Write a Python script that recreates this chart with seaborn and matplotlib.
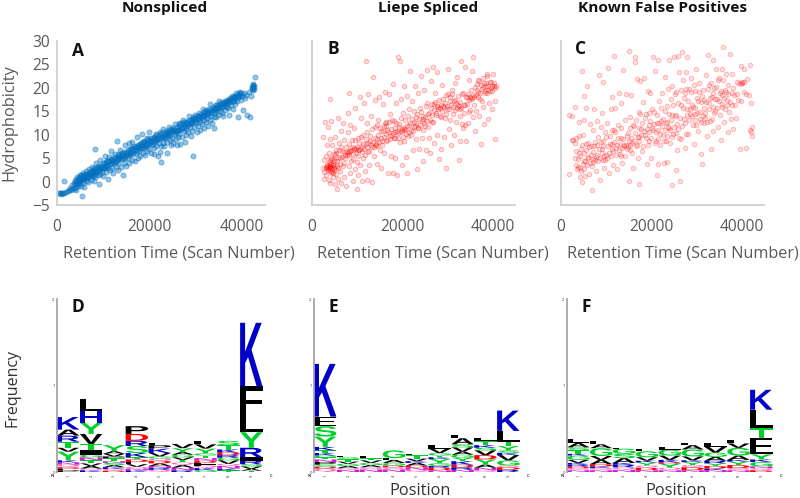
import matplotlib
matplotlib.use("Agg")
import matplotlib.pyplot as plt
import pandas as pd
import seaborn as sns
from matplotlib.font_manager import FontProperties
from matplotlib.patches import PathPatch
from matplotlib.textpath import TextPath
from matplotlib.transforms import Affine2D

TITLES = ["Nonspliced", "Liepe Spliced", "Known False Positives"]
X_TICKS = [0, 20000, 40000]
Y_TICKS = [-5, 0, 5, 10, 15, 20, 25, 30]
XLABEL = "Retention Time (Scan Number)"
YLABEL = "Hydrophobicity"

# (scan number in thousands, hydrophobicity)
A_POINTS = [(0.5,-2.5),(0.7,-2.4),(0.9,-2.6),(1.1,-2.4),(1.3,-2.5),(1.6,-2.4),(1.6,0.1),(1.9,-2.2),(2.3,-2.1),(2.6,-1.7),(2.9,-1.3),
(3.1,-1.8),(3.3,-0.8),(3.4,-1.3),(3.6,-0.2),(3.7,-1.6),(3.8,0.4),(4,-0.6),(4.1,-1.7),(4.2,-1.1),(4.3,0.2),(4.4,0.9),(4.5,-0.4),(4.6,-1),
(4.8,0.6),(4.9,1.5),(5,-0.2),(5.1,-0.9),(5.2,0.3),(5.4,-3.1),(5.4,1),(5.6,1.8),(5.6,-0.3),(5.8,0.5),(5.9,-1.2),(6,1.2),(6.2,2.3),(6.2,0.1),(6.4,0.8),
(6.6,1.6),(6.7,-0.1),(6.9,2.6),(7,0.9),(7.2,1.4),(7.3,0.3),(7.5,2.1),(7.6,3.2),(7.7,1.1),(7.9,0.1),(8,1.8),(8.1,2.8),(8.2,6.9),(8.3,0.9),(8.4,4),(8.6,2.2),(8.8,1.4),
(8.9,3.3),(9,-0.5),(9.1,2.6),(9.3,4.6),(9.4,1.7),(9.6,3),(9.7,2.1),(9.9,3.9),(10,1.1),(10.2,2.8),(10.3,5.5),(10.5,3.4),(10.6,2),(10.8,4.3),(11,0.5),(11,3),
(11.2,5.3),(11.4,2.4),(11.6,3.9),(11.7,6.5),(11.9,3),(12,4.7),(12.2,1.8),(12.4,4),(12.5,5.8),(12.7,3.1),(12.9,4.8),(13,8.6),(13.1,2.5),(13.3,3.9),(13.5,5.3),(13.6,6.8),(13.8,3.2),
(14,4.9),(14.2,1.5),(14.3,5.9),(14.5,4),(14.7,7.9),(14.8,5),(15,3.4),(15.1,6.3),(15.3,5),(15.5,8.2),(15.6,3.9),(15.8,5.7),(16,6.9),(16.2,4.5),(16.3,8.4),(16.5,5.9),(16.7,7.1),(16.9,4.3),
(17,6.2),(17.2,9.6),(17.3,7.6),(17.5,5.1),(17.7,6.6),(17.9,8),(18,5.5),(18.2,7.1),(18.4,10.2),(18.5,6.2),(18.7,8.4),(18.9,7.2),(19,5.7),(19.2,7.6),(19.4,9.2),(19.5,6.6),(19.7,8.1),(19.9,10.6),
(20,7),(20.2,8.7),(20.4,6.2),(20.5,8),(20.7,9.4),(20.9,7.2),(21,5.9),(21.2,8.6),(21.4,10.1),(21.5,7.6),(21.7,9.1),(21.9,5.4),(22,8.3),(22.2,10.5),(22.3,6.4),(22.5,7.5),(22.5,4.2),(22.7,9.6),(22.9,8.2),
(23,11.2),(23.2,7.6),(23.4,9.3),(23.5,10.4),(23.7,8.4),(23.9,6.1),(24,9.8),(24.2,11.7),(24.4,8.8),(24.5,10.5),(24.7,7.8),(24.9,9.4),(25,11.1),(25.2,8.3),(25.4,10.1),(25.5,12.3),(25.7,9),(25.9,7.7),
(26,10.8),(26.2,9.5),(26.4,12.4),(26.5,10.2),(26.7,8.1),(26.9,11.3),(27,9.6),(27.2,13.2),(27.4,10.7),(27.5,12),(27.7,8.5),(27.9,11.2),(28,9.9),(28.2,12.8),(28.4,10.6),(28.5,13.9),(28.7,11.7),
(28.9,9.7),(29,12.4),(29.2,10.8),(29.4,13.3),(29.5,5.4),(29.7,11.6),(29.9,14.2),(30,12.6),(30.2,10.5),(30.4,13.5),(30.5,11.9),(30.7,14.6),(30.9,12.8),(31,11),(31.2,13.9),(31.4,12.2),(31.5,15.4),
(31.7,13.1),(31.9,11.4),(32,14.4),(32.2,12.7),(32.4,15.2),(32.5,13.6),(32.7,11.8),(32.9,14.8),(33,13.1),(33.2,16.6),(33.4,14.1),(33.5,12.4),(33.7,15.4),(33.9,13.7),(34,11.5),(34.2,14.9),(34.4,16.3),
(34.5,13.8),(34.7,15.6),(34.9,14.3),(35,17.3),(35.2,15.1),(35.4,16.5),(35.6,14.6),(35.8,15.9),(36,13.9),(36.2,16.8),(36.4,15.2),(36.6,16.4),(36.8,17.4),(37,15.7),(37.2,14.2),(37.4,17.8),(37.6,16.3),
(37.8,18.3),(38,15.4),(38.2,17.1),(38.4,18),(38.6,16.6),(38.8,18.8),(39,17.3),(39.2,13.7),(39.4,18.4),(39.6,19.2),(39.8,17.5),(40,18.3),(40.2,15.2),(40.4,19),(40.6,17.9),(40.8,18.4),
(41.2,14.3),(41.5,19.2),(41.8,13.7),(42,18.2),(42.1,19.8),(42.2,20.1),(42.3,20.6),(42.3,19.5),(42.4,20.3),(42.5,20),(42.5,20.9),(42.6,19.8),(42.7,20.4),(42.8,22.3)]

# the dense middle of the band in panel A
A_CORE_POINTS = [(4.1,0.2),(4.3,-0.5),(4.5,0.7),(4.7,0.1),(4.9,0.9),(5.1,0.4),(5.3,1.3),(5.5,0.6),(5.7,1.2),(5.9,0.7),(6.1,1.6),(6.3,1),(6.5,1.7),(6.7,1.1),(6.9,1.9),(7.1,1.3),(7.3,2.2),(7.5,1.6),(7.7,2.3),(7.9,1.5),
(8.1,2.2),(8.3,2.6),(8.5,1.9),(8.7,3),(8.9,2.3),(9.1,3.2),(9.3,2.5),(9.5,3.4),(9.7,2.9),(9.9,3.1),(10.1,3.8),(10.3,3),(10.5,4.1),(10.7,3.4),(10.9,4.3),(11.1,3.6),(11.3,4.4),(11.5,3.7),(11.7,4.8),(11.9,4.1),
(12.1,4.6),(12.3,5.2),(12.5,4.2),(12.7,5.1),(12.9,4.4),(13.1,5.6),(13.3,4.8),(13.5,5.9),(13.7,5),(13.9,5.5),(14.1,6.1),(14.3,5.1),(14.5,6.4),(14.7,5.4),(14.9,6.2),(15.1,5.6),(15.3,6.8),(15.5,5.9),(15.7,6.9),(15.9,6),
(16.1,6.4),(16.3,7.2),(16.5,6.3),(16.7,7.6),(16.9,6.7),(17.1,7.3),(17.3,6.6),(17.5,7.9),(17.7,7.1),(17.9,7.5),(18.1,8.2),(18.3,7.2),(18.5,8.4),(18.7,7.5),(18.9,8.6),(19.1,7.8),(19.3,8.3),(19.5,9),(19.7,7.9),(19.9,8.8),
(20.1,8.2),(20.3,9.3),(20.5,8.6),(20.7,8.1),(20.9,9.5),(21.1,8.7),(21.3,9.2),(21.5,9.9),(21.7,8.8),(21.9,9.6),(22.1,9.1),(22.3,10.1),(22.5,9.3),(22.7,10.4),(22.9,9.5),(23.1,10),(23.3,9.4),(23.5,10.8),(23.7,9.9),(23.9,10.5),
(24.1,10.1),(24.3,11),(24.5,9.9),(24.7,11.2),(24.9,10.5),(25.1,11.5),(25.3,10.7),(25.5,11.1),(25.7,10.4),(25.9,11.7),(26.1,11.1),(26.3,11.9),(26.5,11),(26.7,12.2),(26.9,11.5),(27.1,12.4),(27.3,11.4),(27.5,12.7),(27.7,11.9),(27.9,12.4),
(28.1,11.8),(28.3,13),(28.5,12.3),(28.7,13.2),(28.9,12.4),(29.1,13.4),(29.3,12.6),(29.5,13.8),(29.7,13),(29.9,13.5),(30.1,12.9),(30.3,14.1),(30.5,13.4),(30.7,13.9),(30.9,13.3),(31.1,14.5),(31.3,13.7),(31.5,14.2),(31.7,14.8),(31.9,13.9),
(32.1,15),(32.3,14.3),(32.5,14.9),(32.7,14.4),(32.9,15.5),(33.1,14.7),(33.3,15.3),(33.5,14.9),(33.7,16),(33.9,15.2),(34.1,15.7),(34.3,15.1),(34.5,16.3),(34.7,15.6),(34.9,16.2),(35.1,15.8),(35.3,16.7),(35.5,16),(35.7,16.5),(35.9,16.9),
(36.1,16.2),(36.3,17.1),(36.5,16.8),(36.7,16),(36.9,17.3),(37.1,16.9),(37.3,17.5),(37.5,17),(37.7,17.7),(37.9,17.2),(38.1,18),(38.3,17.6),(38.5,18.3),(38.7,17.8),(38.9,18.5),(39.1,18),(39.3,19),(39.5,18.2),(39.7,18.8)]

B_POINTS = [(2.4,9.6),(2.5,2.9),(2.6,4.6),(2.7,2),(2.6,0.6),(2.8,12.8),(3,3.2),(3.1,5.5),(3.2,1.4),(3.3,7.8),(3.4,3.4),(3.5,11.7),(3.6,2.6),(3.7,6.2),(3.8,0.3),(3.9,17.6),(4,3.4),(4,9),(4.1,-0.2),(4.2,5),(4.3,3.2),(4.3,13),
(4.4,2.1),(4.5,7.7),(4.6,3.6),(4.7,1),(4.8,5.8),(4.9,3),(5,9.5),(5.1,-0.5),(5.2,4.4),(5.3,1.6),(5.4,6.8),(5.5,-1.5),(5.6,3.4),(5.7,0.6),(5.8,13.6),(5.9,8.2),(6,5.2),(6.2,2.2),(6.4,10.7),(6.5,-0.2),(6.6,6.5),(6.8,12.6),(7,3.9),(7,8.8),
(7.2,1),(7.4,5.7),(7.6,-1),(7.8,6.4),(7.9,14.7),(8,10.5),(8.1,3.4),(8.2,6.6),(8.3,19),(8.4,12),(8.5,1.8),(8.6,6.8),(8.8,8.8),(9,4.8),(9.1,0.2),(9.2,7.1),(9.4,11.4),(9.5,2.6),(9.6,15.6),(9.8,7),(10,-1.5),(10,4.2),(10.2,9.4),(10.3,1.5),(10.4,6.8),
(10.6,18),(10.7,3.6),(10.8,13.6),(11,7.3),(11.1,0.2),(11.2,10),(11.4,5.1),(11.5,16.7),(11.7,2.3),(11.9,25.7),(12,8),(12.1,12.5),(12.2,0.3),(12.4,6.4),(12.5,18.6),(12.7,3.6),(12.9,8.6),(13,14),(13.2,-0.1),(13.4,7.4),(13.6,22.4),(13.7,5.5),
(13.9,11.6),(14,17.4),(14.2,7.7),(14.4,3.8),(14.5,9.1),(14.7,13.2),(14.9,18),(15,6.7),(15.2,10.7),(15.4,3),(15.6,8.7),(15.7,16.6),(15.9,11.9),(16,6.1),(16.2,19.2),(16.3,12.8),(16.5,8.7),(16.7,10.9),(16.9,1.9),(17,18.6),(17.2,9.1),(17.4,14.4),(17.5,5.5),
(17.7,10),(17.9,1.9),(18,20.8),(18.2,13),(18.3,9.2),(18.5,5),(18.7,16.8),(18.9,1.5),(19,10.4),(19.1,26.6),(19.2,12.2),(19.4,25.7),(19.5,8.4),(19.7,17.7),(19.9,10.8),(20,3.5),(20.2,14.6),(20.3,8.6),(20.5,20.5),(20.7,11.2),(20.8,5.2),(21,18.3),(21.1,1.8),(21.3,9.7),
(21.5,15.4),(21.6,12),(21.8,23.6),(22,10),(22.2,17.3),(22.4,6.7),(22.6,11.6),(22.8,20.3),(23,9),(23.1,13.8),(23.2,2.6),(23.4,18.8),(23.6,11.4),(23.8,7),(24,15.6),(24.1,22.5),(24.3,9.4),(24.5,13.4),(24.7,4.3),(24.9,19.5),(25,11.9),(25.2,6.8),(25.4,16.8),(25.6,23.8),
(25.8,14.4),(26,9.2),(26.2,6.1),(26.4,21.5),(26.6,12.7),(26.8,24.5),(27,8.3),(27,16.6),(27.2,18.9),(27.4,14.3),(27.6,10),(27.8,23.4),(28,16),(28.2,4.8),(28.4,14),(28.6,7),(28.8,20.7),(29,16.2),(29.2,9.6),(29.4,13.6),(29.6,3),(29.8,18.4),(30,15.4),(30.2,24),
(30.4,11.2),(30.6,17.3),(30.8,7.8),(31,19.5),(31.2,14.5),(31.4,10),(31.6,21),(31.8,17.4),(32,12.7),(32.2,22.4),(32.4,16.4),(32.5,4.5),(32.7,8.7),(32.9,15.4),(33.1,25.8),(33.3,18.7),(33.5,11.4),(33.7,14.6),(33.9,24.4),(34,16.3),(34.2,8.7),(34.4,18),(34.6,12.6),
(34.8,21.6),(35,15.3),(35.2,17.6),(35.4,23.7),(35.6,26.6),(35.8,13.7),(36,18),(36.2,10.8),(36.4,15.1),(36.6,19.6),(36.8,21.7),(37,14),(37.2,17.7),(37.4,8),(37.6,19.7),(37.8,22),(38,16),(38.2,12.2),(38.4,19),(38.6,21),(38.8,23),(39,13.3),(39.1,19.5),(39.3,16.8),
(39.5,21.2),(39.6,20),(39.8,15.5),(40,19.3),(40.1,23),(40.3,20.3),(40.5,9),(40.6,17.2),(40.7,20.5)]

# the dense ridge of panel B
B_RIDGE_POINTS = [(3.2,2.8),(3.4,3.6),(3.5,2.5),(3.6,3.2),(3.7,4.2),(3.8,2.9),(3.9,3.7),(4,2.3),(4.1,4.6),(4.1,3.1),(4.2,2),(4.3,3.8),(4.4,4.9),(4.5,2.7),(4.6,1.8),(4.7,3.5),(4.8,4.6),(4.9,2.4),(5,5.6),(5.1,3.2),(5.3,6.2),(5.5,4.4),(5.7,2.8),(5.9,6.7),(6.1,3.7),(6.3,5.1),
(6.5,7.4),(6.7,5.3),(6.9,3.3),(7.1,6.4),(7.3,5),(7.5,7.4),(7.7,5.6),(7.9,6.2),(8.1,8.1),(8.3,5.7),(8.5,6.5),(8.7,4.4),(8.9,7.3),(9.1,5.9),(9.3,6.9),(9.5,8.8),(9.7,6.2),(9.9,7.4),(10.1,6.7),(10.3,5.4),(10.5,8.3),(10.7,7),(10.9,9.6),(11.1,6.3),(11.3,8),(11.5,7),(11.7,5.7),
(11.9,9.1),(12.1,7.4),(12.3,10.5),(12.5,8.2),(12.7,6.5),(12.9,9.7),(13.1,7.7),(13.3,11.2),(13.5,8.4),(13.7,7.4),(13.9,9.4),(14.1,8.1),(14.3,12),(14.5,7.6),(14.7,9.9),(14.9,8.5),(15.1,11.4),(15.3,9.2),(15.5,7.9),(15.7,10.8),(15.9,9.5),(16.1,12.5),(16.3,10.2),(16.5,11.9),(16.7,8.9),
(16.9,10.5),(17.1,12.7),(17.3,9.8),(17.5,11.3),(17.7,13.2),(17.9,10.4),(18.1,9.3),(18.3,11.5),(18.5,10.6),(18.7,12.6),(18.9,10.8),(19.1,9.2),(19.3,11.7),(19.5,10.5),(19.7,13.5),(19.9,11.2),(20.1,9.6),(20.3,11.4),(20.5,10.9),(20.7,13.1),(20.9,10.2),(21.1,11.9),(21.3,14),
(21.5,10.6),(21.7,12.4),(21.9,11.1),(22.1,13.4),(22.3,10.7),(22.5,12.8),(22.7,15),(22.9,11.8),(23.1,12.6),(23.3,14.5),(23.5,11.4),(23.7,13.3),(23.9,12),(24.1,14.8),(24.3,12.9),(24.5,10.9),(24.7,14.1),(24.9,12.5),(25.1,13.7),(25.3,16.2),(25.5,13),(25.7,11.7),(25.9,14.6),(26.1,13.2),
(26.3,15.7),(26.5,14.2),(26.7,16.6),(26.9,12.8),(27.1,15.2),(27.3,16.9),(27.5,14.7),(27.7,16.1),(27.9,15.4),(28.1,17.4),(28.3,15.8),(28.5,13.8),(28.7,16.4),(28.9,15),(29.1,17.7),(29.3,15.9),(29.5,16.7),(29.7,14.5),(29.9,16.2),(30.1,18.6),(30.3,15.4),(30.5,13.2),(30.7,18),
(30.9,16.3),(31.1,18.7),(31.3,16),(31.5,17.3),(31.7,15.2),(31.9,16.8),(32.1,15.6),(32.3,18.2),(32.5,16.2),(32.7,13.9),(32.9,17),(33.1,15.8),(33.3,12.2),(33.5,18.8),(33.7,16.3),(33.9,12),(34.1,18),(34.3,16.6),(34.5,18.6),(34.7,17.4),(34.9,14.8),(35.1,18.1),(35.3,19.6),(35.5,17.8),
(35.7,18.5),(35.9,16.4),(36.1,20.2),(36.3,18.5),(36.5,20.8),(36.7,18),(36.9,19.2),(37.1,21.5),(37.3,18.8),(37.5,20.6),(37.7,17.2),(37.9,20.1),(38.1,21),(38.3,19.4),(38.5,20.5),(38.7,18.9),(38.9,22.6),(39.1,20.4),(39.4,19.4),(39.7,21.2),(40,20.4),(40.3,21),(40.5,20)]

C_POINTS = [(1.7,1.7),(1.8,14.2),(2.4,14),(2.4,8.9),(2.7,8.9),(3,16),(3.1,5),(3.2,8.2),(3.3,3.6),(3.4,9.2),(3.5,2.6),(3.7,4.8),(3.9,6.2),(4,12.7),(4.1,9.8),(4.2,1),(4.3,3),(4.5,6.9),(4.6,23.6),(4.7,0),(4.9,9.9),(5,4.4),(5,13.2),(5.2,18.2),(5.4,1.1),
(5.5,8),(5.6,15.7),(5.7,20.3),(5.9,5.2),(6,8.3),(6.2,1.6),(6.4,12.2),(6.6,7.5),(6.8,-1.7),(7,11),(7.2,4.9),(7.4,15.5),(7.5,8.5),(7.7,2.2),(7.9,13),(8,5.6),(8.2,9.6),(8.4,22.8),(8.6,0.3),(8.8,11.6),(9,6),(9.1,14.6),(9.3,8.6),(9.4,21.2),(9.6,3),
(9.8,10.5),(10,5.7),(10.2,12.4),(10.4,24.3),(10.6,1.8),(10.8,8),(11,15.5),(11.2,6.9),(11.4,18),(11.5,3.5),(11.7,10.9),(11.8,26.7),(12,15.8),(12.2,7.2),(12.4,2.6),(12.6,12),(12.8,19),(13,5.8),(13.2,9.3),(13.4,16.8),(13.6,4),(13.8,23.8),(14,7.8),(14.2,13.2),
(14.4,18.6),(14.6,7),(14.8,10.3),(15,0.2),(15,27.9),(15.2,6.8),(15.4,13.7),(15.6,18.5),(15.8,8.3),(16,3),(16.2,11.9),(16.3,26.5),(16.4,25.5),(16.6,7.5),(16.8,21.8),(17,5),(17.2,14.9),(17.4,9.6),(17.4,-0.6),(17.6,21.5),(17.8,11.2),(18,6.6),(18.2,17),(18.4,22.2),
(18.6,10),(18.8,14.5),(19,3.7),(19.2,19.4),(19.4,12),(19.6,8.6),(19.8,18.9),(20,5),(20.2,11.4),(20.4,26.6),(20.6,14.9),(20.8,23.7),(21,8.6),(21.2,12.4),(21.2,1.4),(21.4,26),(21.6,3.7),(21.8,17.2),(22,7.9),(22.2,12.9),(22.4,18.8),(22.6,10),(22.8,3.9),(23,22.3),
(23,15.1),(23.2,8.6),(23.4,12.8),(23.6,4.2),(23.8,19.8),(24,11.4),(24,26),(24.2,8.3),(24.3,17.6),(24.5,14.2),(24.5,-0.7),(24.7,20.5),(24.9,10.2),(25,26.6),(25.2,13.9),(25.4,2.4),(25.6,19.1),(25.8,6.7),(26,11.2),(26,26.7),(26.2,23.3),(26.3,0.2),(26.5,16.3),(26.7,9),
(26.9,27.6),(27,21.6),(27.2,13.3),(27.4,18.9),(27.5,7.1),(27.7,23.3),(27.9,15.4),(28,26.6),(28.2,10.2),(28.4,19.7),(28.6,14.5),(28.8,22.2),(29,16.4),(29.2,12),(29.4,8),(29.6,19.3),(29.8,14.4),(30,24),(30.2,17.8),(30.4,10.7),(30.6,21),(30.8,13.4),(31,5.8),(31,16.9),
(31.3,3.7),(31.5,19.6),(31.7,12.4),(31.9,14.6),(32.1,22.8),(32.3,9.8),(32.5,27.1),(32.7,16.8),(32.9,20.6),(33,13),(33.2,7),(33.4,18),(33.6,26),(33.8,10.8),(34,20),(34.2,15),(34.4,24),(34.6,17.6),(34.8,11.6),(35,22),(35.2,19),(35.4,8.8),(35.6,24),(35.8,16),
(36,28.7),(36.2,12.8),(36.4,19.6),(36.6,23),(36.8,16.4),(37,10.5),(37,18.6),(37.2,14.8),(37.4,27.3),(37.6,13.3),(37.8,22.9),(38,16.4),(38.2,11.3),(38.4,18.5),(38.7,13.5),(39,21.3),(39.2,17.5),(39.6,6.9),(39.8,20.8),(40,24.6),(40.2,21.2),(40.5,19.2),(40.6,24.1),
(40.9,7.2),(41,18.7),(41.3,21.8),(41.6,18.4),(41.9,11),(42,24.8),(42.1,16.8),(42.2,10.6),(42.3,11.6),(42.3,9.7)]

# the denser middle of panel C
C_RIDGE_POINTS = [(3.4,6.5),(3.8,3.2),(4.2,5.4),(4.4,2.2),(4.6,7.8),(4.8,3.8),(5,6.2),(5.2,2.7),(5.4,4.4),(5.6,6.8),(5.8,3.5),(6,5),(6.2,7.4),(6.4,3.9),(6.6,5.7),(6.8,3.4),(7,6.3),(7.2,4.2),(7.4,7.6),(7.6,4.6),(7.8,5.2),(8,7.9),(8.2,4.4),(8.4,6.9),(8.6,5),(8.8,8.5),(9,7),
(9.2,4.7),(9.4,7.6),(9.6,5.4),(9.8,4.6),(10,9.6),(10.2,5),(10.4,7.5),(10.6,6.2),(10.8,9.8),(11,5.5),(11.2,8.1),(11.4,11),(11.6,6.5),(11.8,8.4),(12,10.6),(12.2,5.7),(12.4,7.8),(12.6,9.2),(12.8,6.8),(13,8.1),(13.2,5.4),(13.4,11.5),(13.6,7.2),(13.8,9),(14,7.6),(14.2,5.5),
(14.4,7.9),(14.6,9.8),(14.8,7.4),(15,8.6),(15.2,11.4),(15.4,7.7),(15.6,9.3),(15.8,6),(16,12.1),(16.2,8.6),(16.4,10.4),(16.6,13.2),(16.8,7.9),(17,9.5),(17.2,11.5),(17.4,8.6),(17.6,14.5),(17.8,10),(18,12.4),(18.2,7.5),(18.4,10.7),(18.6,13.6),(18.8,9.2),(19,11.2),(19.2,7.9),
(19.4,14.7),(19.6,10.6),(19.8,12.9),(20,9.2),(20.2,15.5),(20.4,10.9),(20.6,12.3),(20.8,8.2),(21,10.6),(21.2,14.3),(21.4,11.1),(21.6,9.1),(21.8,12.6),(22,10.2),(22.2,15.7),(22.4,11.9),(22.6,13.4),(22.8,8.7),(23,10.9),(23.2,12.6),(23.4,16.2),(23.6,9.8),(23.8,11.6),(24,14.4),
(24.2,10.9),(24.4,13.1),(24.6,9.5),(24.8,16.4),(25,11.7),(25.2,18.7),(25.4,10.4),(25.6,14.3),(25.8,12.2),(26,16.8),(26.2,9.4),(26.4,13.5),(26.6,19.5),(26.8,11.9),(27,15.7),(27.2,17.8),(27.4,12.4),(27.6,19.8),(27.8,10.2),(28,14.2),(28.2,17.2),(28.4,13.1),(28.6,15.5),(28.8,19.1),
(29,14.1),(29.2,16),(29.4,20.6),(29.6,13.2),(29.8,15.6),(30,12),(30.2,14.7),(30.4,17.1),(30.6,19.2),(30.8,14.8),(31,12.8),(31.2,18.3),(31.4,13.9),(31.6,15.8),(31.8,17.4),(32,13.6),(32.2,16.9),(32.4,12.7),(32.6,19.8),(32.8,15.4),(33,17.8),(33.2,21),(33.4,13.4),(33.6,15.9),(33.8,18.9),
(34,14.6),(34.2,17.6),(34.4,20.2),(34.6,15.8),(34.8,21.6),(35,17.1),(35.2,14.3),(35.4,19.3),(35.6,16.6),(35.8,18.5),(36,21.6),(36.2,17.8),(36.4,15.5),(36.6,19.1),(36.8,17.5),(37,20.7),(37.4,17),(37.8,18.9),(38.2,20),(38.6,16.3),(39,18.7),(39.4,21),(39.8,17.2),(40.2,21.1),(40.6,21.2)]

# residues with stack height, bottom to top, positions 1 to 9
D_STACKS = [
 [("P",.02),("E",.015),("D",.02),("Q",.03),("N",.025),("K",.025),("Y",.1),("V",.045),("T",.07),("R",.07),("A",.07),("K",.145)],
 [("K",.02),("Q",.02),("A",.03),("V",.03),("T",.035),("N",.035),("G",.03),("I",.05),("T",.075),("V",.115),("Y",.13),("H",.13),("L",.14)],
 [("D",.015),("Q",.02),("K",.02),("A",.025),("S",.025),("N",.02),("T",.035),("P",.02),("V",.03),("A",.03),("Y",.07)],
 [("K",.02),("N",.02),("Q",.02),("V",.03),("E",.025),("D",.03),("T",.025),("K",.05),("S",.08),("R",.06),("D",.08),("P",.09)],
 [("Q",.025),("R",.02),("N",.025),("A",.03),("D",.03),("Q",.025),("G",.025),("V",.04),("K",.05),("P",.04),("L",.03)],
 [("R",.02),("N",.03),("A",.03),("Q",.03),("T",.03),("V",.03),("G",.03),("A",.03),("Y",.045),("V",.05)],
 [("G",.02),("K",.025),("Q",.03),("F",.03),("D",.025),("N",.03),("T",.03),("G",.025),("Y",.055),("V",.05),("L",.04)],
 [("T",.02),("K",.02),("N",.03),("Q",.025),("V",.04),("G",.03),("R",.03),("D",.03),("K",.035),("T",.05),("S",.05)],
 [("T",.015),("A",.02),("V",.03),("S",.025),("R",.04),("I",.04),("R",.11),("Y",.18),("L",.2),("F",.33),("K",.735)],
]
E_STACKS = [
 [("Q",.04),("D",.02),("S",.025),("P",.03),("N",.03),("T",.025),("G",.02),("K",.03),("T",.03),("K",.04),("Y",.12),("S",.12),("E",.11),("K",.61)],
 [("N",.025),("Q",.02),("A",.025),("G",.025),("V",.025),("T",.025),("S",.025),("L",.02)],
 [("N",.03),("Q",.025),("A",.025),("G",.025),("V",.03),("T",.025),("L",.02)],
 [("N",.03),("Q",.025),("D",.02),("G",.03),("A",.035),("L",.02),("G",.09)],
 [("Q",.025),("N",.03),("D",.02),("A",.03),("K",.02),("V",.03),("T",.04),("L",.015)],
 [("N",.02),("D",.03),("R",.02),("G",.03),("Y",.05),("K",.02),("T",.02),("G",.03),("V",.05),("L",.04)],
 [("N",.025),("R",.03),("D",.03),("K",.04),("Y",.04),("G",.035),("A",.035),("V",.05),("S",.035),("A",.07),("L",.04)],
 [("Q",.02),("N",.03),("A",.035),("Y",.06),("D",.05),("V",.055),("S",.03),("K",.03),("T",.05),("L",.035)],
 [("R",.025),("D",.03),("Q",.02),("G",.06),("V",.06),("K",.025),("S",.03),("Y",.05),("T",.05),("L",.125),("K",.235)],
]
F_STACKS = [
 [("N",.02),("Q",.025),("D",.02),("R",.02),("K",.02),("V",.035),("G",.05),("K",.02),("T",.045),("S",.03),("A",.05),("L",.05)],
 [("N",.02),("Q",.025),("K",.02),("D",.025),("A",.05),("V",.045),("G",.09),("A",.045),("L",.04)],
 [("N",.025),("Q",.03),("R",.03),("K",.02),("A",.055),("S",.05),("G",.06),("L",.01)],
 [("N",.02),("D",.03),("Q",.025),("Y",.035),("K",.02),("V",.04),("G",.07),("L",.03)],
 [("N",.02),("Q",.03),("Y",.045),("D",.015),("K",.03),("V",.05),("G",.07),("L",.03)],
 [("N",.02),("D",.035),("Q",.025),("Y",.035),("K",.02),("V",.045),("G",.08),("A",.05),("L",.03)],
 [("N",.02),("K",.02),("D",.03),("Y",.03),("R",.03),("A",.045),("G",.05),("V",.065),("L",.04)],
 [("N",.02),("Q",.025),("D",.035),("Y",.04),("K",.02),("A",.05),("G",.09),("V",.05),("L",.04)],
 [("D",.02),("Q",.025),("N",.02),("G",.05),("K",.03),("Y",.06),("E",.19),("T",.11),("L",.215),("K",.23)],
]

RESIDUE_COLORS = dict(K="#0000c8", R="#0000c8", H="#0000c8",
                      A="#000000", V="#000000", L="#000000", I="#000000", P="#000000",
                      F="#000000", M="#000000", W="#000000", E="#000000",
                      G="#00d02a", S="#00d02a", T="#00d02a", Y="#00d02a", C="#00d02a",
                      D="#ff0000", N="#cc22cc", Q="#ff66bb")

W, H = 800, 498
GRAY = "#595959"
sns.set_theme(style="white")
plt.rcParams["font.family"] = ["Open Sans", "DejaVu Sans"]

fig = plt.figure(figsize=(W / 100, H / 100), dpi=100, facecolor="white")


def axes_px(left, right, top, bottom):
    return fig.add_axes([left / W, 1 - bottom / H, (right - left) / W, (bottom - top) / H])


def scatter_panel(points, color, box, size, face_alpha, edge_alpha, show_y):
    ax = axes_px(*box)
    frame = pd.DataFrame(points, columns=["scan", "hydro"])
    frame["scan"] *= 1000
    sns.scatterplot(data=frame, x="scan", y="hydro", ax=ax, s=size, legend=False, clip_on=False,
                    facecolor=matplotlib.colors.to_rgba(color, face_alpha),
                    edgecolor=matplotlib.colors.to_rgba(color, edge_alpha), linewidth=0.6)
    ax.set_xlim(0, 45000)
    ax.set_ylim(-5, 30)
    ax.set_xticks(X_TICKS)
    ax.set_yticks(Y_TICKS if show_y else [])
    ax.set_xlabel("")
    ax.set_ylabel("")
    ax.tick_params(axis="both", length=0, labelsize=11.2, labelcolor=GRAY)
    ax.tick_params(axis="x", pad=10)
    ax.tick_params(axis="y", pad=5)
    sns.despine(ax=ax)
    for side in ("left", "bottom"):
        ax.spines[side].set_color("#d0d0d0")
        ax.spines[side].set_linewidth(1.3)
    return ax


def logo_panel(stacks, box):
    ax = axes_px(*box)
    prop = FontProperties(family="Liberation Sans", weight="bold")
    for i, stack in enumerate(stacks):
        base = 0.0
        for letter, height in stack:
            path = TextPath((0, 0), letter, size=1, prop=prop)
            ext = path.get_extents()
            place = (Affine2D().translate(-ext.x0, -ext.y0).scale(0.98 / ext.width, height / ext.height)
                     .translate(i, base) + ax.transData)
            ax.add_patch(PathPatch(path, facecolor=RESIDUE_COLORS[letter], linewidth=0, transform=place))
            base += height
    ax.set_xlim(0, 9)
    ax.set_ylim(0, 2)
    ax.set_yticks([0, 1, 2])
    ax.set_xticks([i + 0.5 for i in range(len(stacks))])
    ax.set_xticklabels([str(i + 1) for i in range(len(stacks))], rotation=90)
    ax.tick_params(axis="both", length=1.2, width=0.4, labelsize=3, pad=0.5, color="#555555", labelcolor="#333333")
    sns.despine(ax=ax, bottom=True)
    ax.spines["left"].set_color("#a6a6a6")
    ax.spines["left"].set_linewidth(1.3)
    ax.text(-0.2, -0.05, "N", fontsize=3, ha="center", va="center", color="#333333", fontweight="bold")
    ax.text(9.35, -0.05, "C", fontsize=3, ha="center", va="center", color="#333333", fontweight="bold")
    return ax


def label(x, y, text, **kw):
    fig.text(x / W, 1 - y / H, text, ha="center", va="center", **kw)


scatter_panel(A_POINTS + A_CORE_POINTS, "#0070c0", (57, 265, 41, 205), 14, 0.42, 0.45, True)
scatter_panel(B_POINTS + B_RIDGE_POINTS, "#ff0000", (312, 515, 41, 205), 11, 0.14, 0.3, False)
scatter_panel(C_POINTS + C_RIDGE_POINTS, "#ff0000", (561, 764, 41, 205), 11, 0.13, 0.27, False)

logo_panel(D_STACKS, (57, 263, 299, 472))
logo_panel(E_STACKS, (314, 520, 299, 472))
logo_panel(F_STACKS, (567, 773, 299, 472))

for x, title in zip((165, 428, 663), TITLES):
    label(x, 8, title, fontsize=11.1, fontweight="bold", color="#111111")
for x in (179, 433, 683):
    label(x, 253, XLABEL, fontsize=11.7, color=GRAY)
label(9, 123, YLABEL, fontsize=11.8, color=GRAY, rotation=90)
label(12, 388, "Frequency", fontsize=11.5, color="#333333", rotation=90)
for x in (165, 420, 676):
    label(x, 491, "Position", fontsize=11.8, color="#333333")
for x, y, letter in ((78, 51, "A"), (333, 49, "B"), (581, 49, "C"), (78, 307, "D"), (333, 307, "E"), (586, 307, "F")):
    label(x, y, letter, fontsize=12.5, fontweight="bold", color="#111111")

fig.savefig("out.png", dpi=100)
